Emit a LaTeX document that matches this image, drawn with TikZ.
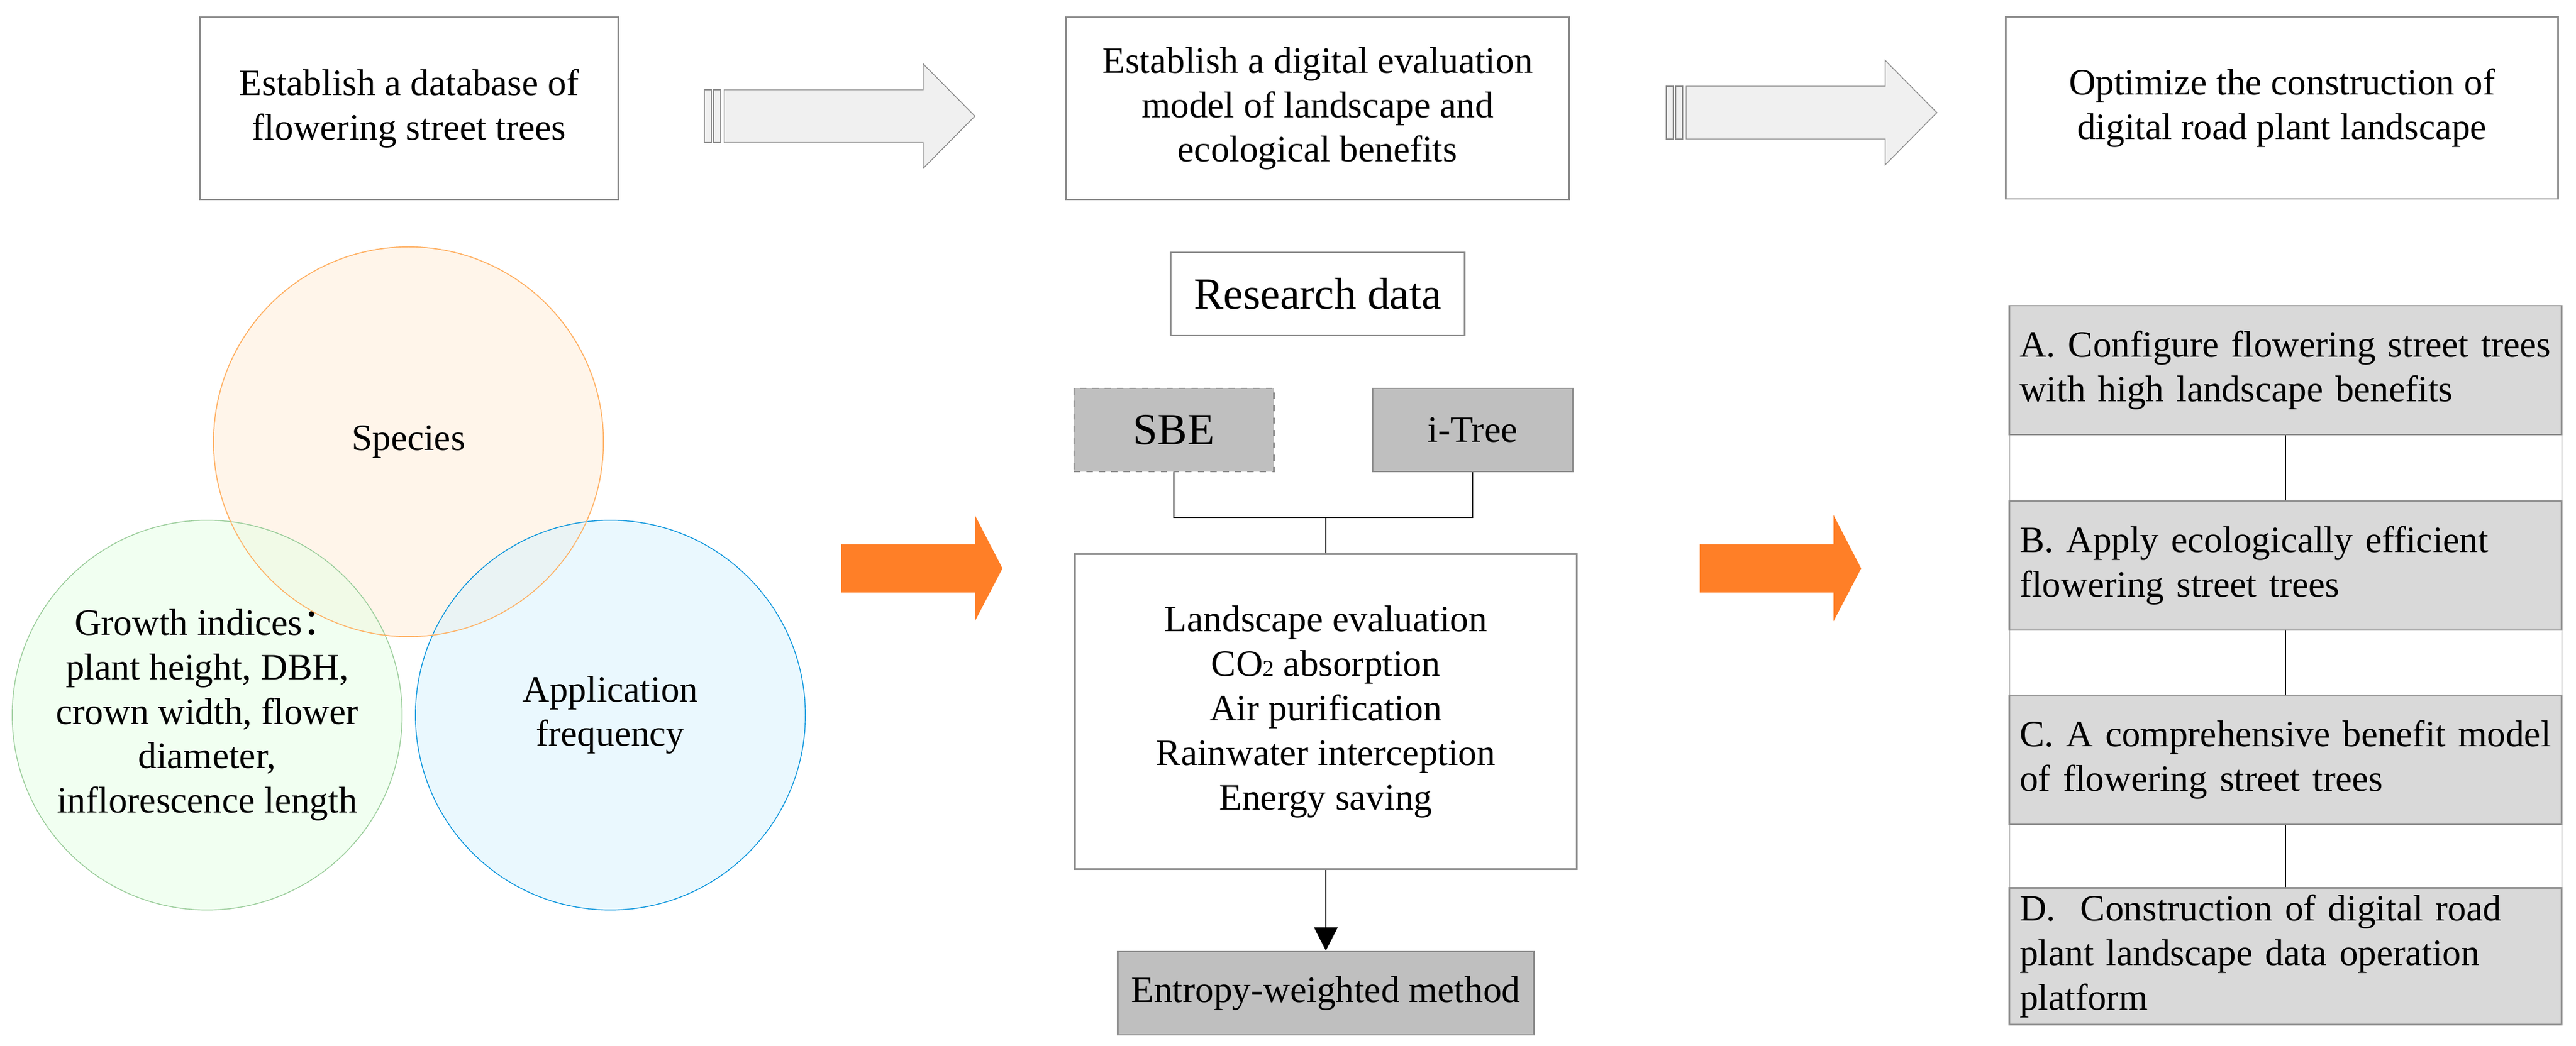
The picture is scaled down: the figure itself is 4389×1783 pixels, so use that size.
\documentclass[tikz,border=0pt]{standalone}
\usepackage{fontspec}
\setmainfont{Liberation Serif}
\newfontfamily\cjk{Noto Sans CJK SC}
\usetikzlibrary{positioning,arrows.meta}
\definecolor{boxline}{HTML}{8C8C8C}
\definecolor{grayfill}{HTML}{BFBFBF}
\definecolor{lightfill}{HTML}{D9D9D9}
\definecolor{orangeA}{HTML}{FF7F27}
\tikzset{
  stepbox/.style={
    rectangle,
    draw=boxline, thick,
    fill=white,
    font=\fontsize{18}{21.5}\selectfont,
    align=center,
    minimum width=8.6cm,
    minimum height=3.1cm},
  databox/.style={
    rectangle,
    draw=boxline, thick,
    fill=grayfill,
    minimum width=3.4cm,
    minimum height=1.42cm},
  planbox/.style={
    rectangle,
    draw=boxline, thick,
    fill=lightfill,
    font=\fontsize{18}{21.5}\selectfont,
    text width=9.05cm,
    align=left,
    minimum width=9.41cm,
    minimum height=2.2cm},
  petal/.style={circle, minimum size=6.64cm, fill opacity=0.55, text opacity=1,
    font=\fontsize{18}{21.5}\selectfont, align=center},
  grayarrow/.style={draw=boxline, fill=gray!12},
  hotarrow/.style={fill=orangeA},
  link/.style={draw, thick, black},
}
\begin{document}
\begin{tikzpicture}[x=0.01cm,y=-0.01cm]
\useasboundingbox (0,0) rectangle (4389,1783);

% top row
\node[stepbox, minimum width=7.12cm] (dbase) at (697,185) {Establish a database of\\flowering street trees};
\node[stepbox, minimum width=8.56cm] (evalmodel) at (2245,185) {Establish a digital evaluation\\model of landscape and\\ecological benefits};
\node[stepbox, minimum width=9.4cm] (optimize) at (3888,184) {Optimize the construction of\\digital road plant landscape};

% block arrows between the steps
\foreach \dx/\dy in {0/0, 1639/-6} {
  \begin{scope}[shift={(\dx,\dy)}]
    \draw[grayarrow] (1200,153) rectangle (1212,243) (1216,153) rectangle (1228,243);
    \draw[grayarrow] (1234,153) -- (1573,153) -- (1573,109) -- (1661,198)
      -- (1573,287) -- (1573,243) -- (1234,243) -- cycle;
  \end{scope}
}

% left: venn
\node[petal, draw=orange!60, fill=orange!15] (species) at (696,753) {Species};
\node[petal, draw=green!50!black!40, fill=green!10] (growth) at (353,1219) {Growth indices{\cjk ：}\\plant height, DBH,\\crown width, flower\\diameter,\\inflorescence length};
\node[petal, draw=cyan!80!blue, fill=cyan!15] (appfreq) at (1040,1219) {Application\\frequency};
\node[petal, draw=orange!60] at (species) {};

\foreach \dx in {0, 1463}
  \fill[hotarrow, shift={(\dx,0)}] (1433,928) -- (1661,928) -- (1661,878) -- (1708,969)
    -- (1661,1059) -- (1661,1010) -- (1433,1010) -- cycle;

% middle: data and model
\node[stepbox, minimum width=5cm, minimum height=1.42cm, font=\fontsize{21.5}{25}\selectfont] (resdata) at (2245,501) {Research data};
\node[databox, dashed, font=\fontsize{21.5}{25}\selectfont] (sbe) at (2000,733) {SBE};
\node[databox, font=\fontsize{18}{21}\selectfont] (itree) at (2509,733) {i-Tree};
\node[stepbox, minimum width=8.54cm, minimum height=5.36cm, font=\fontsize{18}{21.6}\selectfont] (benefits) at (2259,1213)
  {Landscape evaluation\\CO{\fontsize{11}{13}\selectfont 2} absorption\\Air purification\\Rainwater interception\\Energy saving};
\node[databox, minimum width=7.09cm, font=\fontsize{18}{21}\selectfont] (entropy) at (2259,1693) {Entropy-weighted method};

\coordinate (joint) at (2259,882);
\draw[link] (sbe.south) |- (joint) -| (itree.south);
\draw[link] (joint) -- (benefits.north);
\draw[link, -{Triangle[length=0.4cm,width=0.4cm]}] (benefits.south) -- (entropy.north);

% right: plan
\draw[boxline!50] (3424,522) rectangle (4365,1742);
\node[planbox] (planA) at (3894,631) {A. Configure flowering street trees\\with high landscape benefits};
\node[planbox] (planB) at (3894,964) {B. Apply ecologically efficient\\flowering street trees};
\node[planbox] (planC) at (3894,1295) {C. A comprehensive benefit model\\of flowering street trees};
\node[planbox, minimum height=2.24cm] (planD) at (3894,1630) {D.\ \ Construction of digital road\\plant landscape data operation\\platform};
\foreach \u/\v in {planA/planB, planB/planC, planC/planD}
  \draw[link] (\u.south) -- (\v.north);

\end{tikzpicture}
\end{document}
